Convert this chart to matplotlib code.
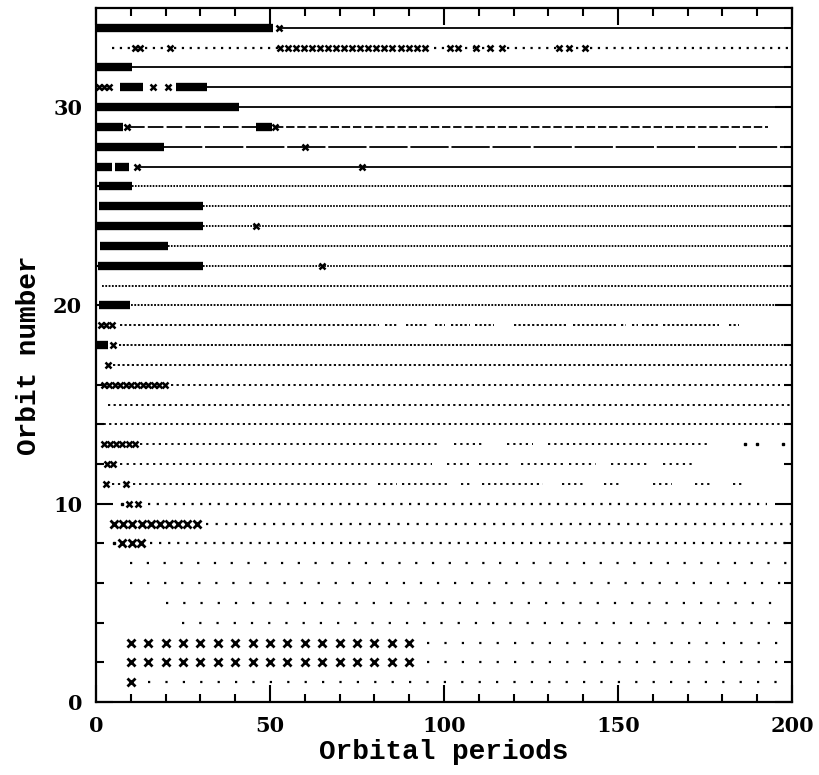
import matplotlib
matplotlib.use('Agg')
import matplotlib.pyplot as plt
from matplotlib.ticker import MultipleLocator

plt.rcParams['lines.scale_dashes'] = False

# ---------------- data ----------------
x_major = [0, 50, 100, 150, 200]
y_major = [0, 10, 20, 30]

# dense runs of crosses that merge into thick bars: (orbit, start, end)
thick_bars = [(34, 0.3, 51), (32, 0, 10.3), (31, 7, 13.6), (31, 23, 32),
              (30, 0, 41), (29, 0, 7.8), (29, 46, 50.5), (28, 0, 19.4),
              (27, 0.3, 4.6), (27, 5.6, 9.5), (26, 0.8, 10.3), (25, 0.8, 30.8),
              (24, 0, 30.8), (23, 1.2, 20.7), (22, 0.6, 30.8), (20, 0.8, 9.8),
              (18, 0.3, 3.5)]

# continuous (solid) runs: (orbit, start, end)
solid_lines = [(34, 53, 200), (32, 10.3, 200), (31, 32, 200),
               (30, 41, 200), (27, 12, 200)]

# dashed runs: (orbit, start, end, dash length, gap length) in periods
dashed_lines = [(29, 9.5, 46, 4.5, 0.9), (29, 51.5, 193, 2.4, 0.8),
                (28, 19.4, 200, 11.0, 0.8)]

# dotted runs: (orbit, start, end, period spacing)
dotted_runs = [
    (1, 15, 196, 5), (2, 95, 196, 5), (3, 95, 199, 5),
    (4, 24.6, 199, 4.95), (5, 20, 196, 4.95), (6, 9.8, 198, 4.9),
    (7, 9.8, 198, 4.82), (8, 15.5, 199, 2.6), (9, 31.5, 199, 2.75),
    (10, 15, 192, 2.5),
    (11, 4.7, 7.5, 1.7), (11, 10.5, 78, 1.75), (11, 81, 86, 1.75),
    (11, 88, 101, 1.75), (11, 105, 107, 1.75), (11, 111, 128, 1.75),
    (11, 134, 140, 1.75), (11, 146, 150, 1.75), (11, 160, 165, 1.75),
    (11, 172, 176, 1.75), (11, 183, 186, 1.75),
    (12, 7, 96, 1.9), (12, 101, 106.6, 1.9), (12, 110, 118, 1.9),
    (12, 122, 134, 1.9), (12, 136, 143, 1.9), (12, 148, 158, 1.9),
    (12, 163, 171, 1.9),
    (13, 12.5, 97.5, 1.8), (13, 103, 111, 1.8), (13, 118, 125, 1.8),
    (13, 130, 176, 1.8),
    (14, 0.5, 197, 1.6), (15, 3.5, 199, 1.6), (16, 21.5, 196, 1.6),
    (17, 5, 200, 1.35), (18, 6.5, 199, 1.1),
    (19, 7, 81, 1.3), (19, 83, 86, 1.3), (19, 89, 95, 1.3),
    (19, 97.5, 100, 1.3), (19, 102, 107, 1.3), (19, 109, 114, 1.3),
    (19, 120, 135, 1.3), (19, 137, 149, 1.3), (19, 151, 152, 1.3),
    (19, 154, 155.5, 1.3), (19, 157, 161, 1.3), (19, 163, 178.5, 1.3),
    (19, 182, 184.5, 1.3),
    (20, 10, 195, 0.95), (21, 1.7, 200, 0.95), (22, 30.8, 200, 0.85),
    (23, 20.7, 200, 0.85), (24, 30.8, 200, 0.85), (25, 30.8, 200, 0.85),
    (26, 10.3, 200, 0.85),
    (33, 4.5, 10.5, 2.25), (33, 14, 20, 2.25), (33, 22.5, 52, 2.25),
    (33, 97, 101, 2.25), (33, 106, 108, 2.25), (33, 111, 112, 2.25),
    (33, 118, 132, 2.25), (33, 138, 139, 2.25), (33, 142, 199, 2.25),
]

# isolated single points: (orbit, period)
single_dots = [(8, 5.2), (10, 7.5), (13, 186.5), (13, 190), (13, 197.4)]

# crosses: (orbit, [periods])
crosses = [
    (34, [52.5]),
    (33, [11.2, 12.7, 21.3,
          53.0, 55.3, 57.6, 59.9, 62.2, 64.5, 66.8, 69.1, 71.4, 73.7,
          76.0, 78.3, 80.6, 82.9, 85.2, 87.5, 89.8, 92.1, 94.4,
          101.7, 104.0, 109.3, 113.3, 116.7, 133.0, 135.8, 140.5]),
    (31, [0.8, 2.3, 3.8, 16.5, 20.8]),
    (29, [8.8, 51.5]),
    (28, [60]),
    (27, [11.7, 76.5]),
    (24, [46]),
    (22, [65]),
    (19, [1.5, 3.0, 4.5]),
    (18, [5]),
    (17, [3.5]),
    (16, [2.2, 3.8, 5.4, 7.0, 8.6, 10.2, 11.8, 13.4, 15.0, 16.6, 18.2, 19.8]),
    (13, [2.2, 4.0, 5.8, 7.6, 9.4, 11.2]),
    (12, [3.2, 5.0]),
    (11, [3.0, 8.6]),
    (10, [9.6, 12.0]),
    (9, [5.2, 7.8, 10.4, 13.1, 15.7, 18.4, 21.0, 23.6, 26.2, 28.9]),
    (8, [7.5, 10.3, 13.0]),
    (3, [10, 15, 20, 25, 30, 35, 40, 45, 50, 55, 60, 65, 70, 75, 80, 85, 90]),
    (2, [10, 15, 20, 25, 30, 35, 40, 45, 50, 55, 60, 65, 70, 75, 80, 85, 90]),
    (1, [10]),
]

# ---------------- figure ----------------
W, H, DPI = 819, 775, 100
fig = plt.figure(figsize=(W / DPI, H / DPI), dpi=DPI)
ax = fig.add_axes([96 / W, 1 - 702 / H, (792 - 96) / W, (702 - 8) / H])
ax.set_xlim(0, 200)
ax.set_ylim(0, 35)

# points per data unit along x
pt_per_unit = (792 - 96) / 200 * 72 / DPI

for o, a, b in thick_bars:
    ax.plot([a, b], [o, o], color='black', lw=6.0, solid_capstyle='butt')

for o, a, b in solid_lines:
    ax.plot([a, b], [o, o], color='black', lw=1.3, solid_capstyle='butt')

for o, a, b, d, g in dashed_lines:
    ax.plot([a, b], [o, o], color='black', lw=1.3,
            linestyle=(0, (d * pt_per_unit, g * pt_per_unit)),
            dash_capstyle='butt')

for o, a, b, s in dotted_runs:
    step = s * pt_per_unit
    on = min(1.6, step * 0.55)
    lw = 1.6 if s >= 2 else 1.35
    ax.plot([a, b + s * 0.3], [o, o], color='black', lw=lw,
            linestyle=(0, (on, step - on)), dash_capstyle='butt')

ax.plot([p for _, p in single_dots], [o for o, _ in single_dots],
        linestyle='none', marker='s', ms=1.7, color='black')

for o, xs in crosses:
    big = o <= 9
    ax.plot(xs, [o] * len(xs), linestyle='none', marker='x', color='black',
            ms=6 if big else 5, mew=2.0 if big else 1.8)

# axes styling
for sp in ax.spines.values():
    sp.set_linewidth(1.6)
ax.set_xticks(x_major)
ax.set_yticks(y_major)
ax.xaxis.set_minor_locator(MultipleLocator(10))
ax.yaxis.set_minor_locator(MultipleLocator(2))
ax.tick_params(which='both', direction='in', top=True, right=True, width=1.5)
ax.tick_params(which='major', length=12, pad=10)
ax.tick_params(which='minor', length=6)
for lab in ax.get_xticklabels() + ax.get_yticklabels():
    lab.set_fontfamily('DejaVu Serif')
    lab.set_fontweight('bold')
    lab.set_fontsize(15)

ax.set_xlabel('Orbital periods', family='Liberation Mono', fontweight='bold',
              fontsize=20, labelpad=2)
ax.set_ylabel('Orbit number', family='Liberation Mono', fontweight='bold',
              fontsize=20, labelpad=8)

fig.savefig('out.png', dpi=DPI)
